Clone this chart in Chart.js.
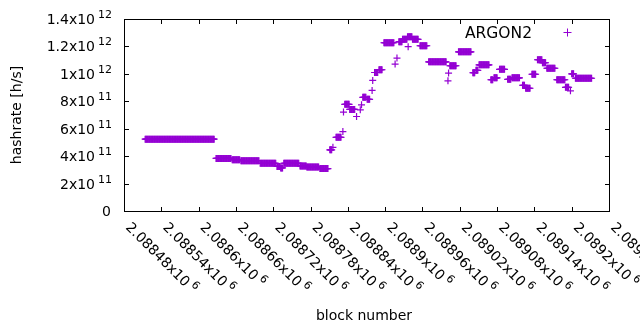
<!DOCTYPE html>
<html><head><meta charset="utf-8">
<script src="https://cdn.jsdelivr.net/npm/chart.js@4/dist/chart.umd.min.js"></script>
<style>html,body{margin:0;padding:0;background:#fff;}canvas{display:block;}</style>
</head><body>
<canvas id="c" width="640" height="330"></canvas>
<script>
// Data: runs of consecutive blocks sharing the same hashrate value
const runStart = [2088514,2088628,2088654,2088668,2088699,2088726,2088732,2088737,2088763,2088774,2088795,
  2088811,2088816,2088821,2088832,2088833,2088835,2088843,2088854,2088860,2088862,2088864,2088871,2088879,2088880,
  2088883,2088890,2088898,2088916,2088919,2088922,2088928,2088936,2088937,2088944,2088956,2088970,2089001,2089002,
  2089004,2089018,2089041,2089046,2089051,2089070,2089075,2089084,2089097,2089104,2089121,2089126,2089136,2089145,
  2089153,2089160,2089176,2089190,2089198,2089200,2089206];
const runEnd = [2088625,2088652,2088666,2088697,2088724,2088731,2088735,2088761,2088773,2088793,2088808,
  2088814,2088816,2088829,2088832,2088833,2088842,2088851,2088854,2088860,2088862,2088869,2088875,2088879,2088880,
  2088888,2088895,2088914,2088916,2088919,2088927,2088935,2088943,2088937,2088953,2088967,2088998,2089001,2089002,
  2089014,2089038,2089044,2089049,2089067,2089073,2089080,2089092,2089102,2089116,2089124,2089133,2089142,2089152,
  2089158,2089173,2089189,2089195,2089198,2089203,2089232];
const runValue = [5.24e11,3.83e11,3.74e11,3.67e11,3.48e11,3.25e11,3.14e11,3.48e11,3.29e11,3.2e11,3.09e11,
  4.46e11,4.64e11,5.37e11,5.79e11,7.21e11,7.78e11,7.41e11,6.89e11,7.38e11,7.74e11,8.29e11,8.14e11,8.79e11,9.52e11,
  1.01e12,1.03e12,1.227e12,1.071e12,1.115e12,1.234e12,1.252e12,1.271e12,1.198e12,1.252e12,1.205e12,1.088e12,9.49e11,1.006e12,
  1.059e12,1.161e12,1.008e12,1.026e12,1.066e12,9.57e11,9.71e11,1.033e12,9.6e11,9.71e11,9.17e11,8.95e11,9.97e11,1.103e12,
  1.081e12,1.041e12,9.57e11,9.02e11,8.76e11,1.0e12,9.68e11];

const xTickValues = [2088480,2088540,2088600,2088660,2088720,2088780,2088840,2088900,2088960,2089020,2089080,2089140,2089200,2089260];
const xTickLabels = ['2.08848','2.08854','2.0886','2.08866','2.08872','2.08878','2.08884','2.0889','2.08896','2.08902','2.08908','2.08914','2.0892','2.08926'];
const xTickExps = ['6','6','6','6','6','6','6','6','6','6','6','6','6','6'];
const yTickValues = [0,2e11,4e11,6e11,8e11,1e12,1.2e12,1.4e12];
const yTickLabels = ['0','2','4','6','8','1','1.2','1.4'];
const yTickExps = ['','11','11','11','11','12','12','12'];
const seriesName = 'ARGON2';
const xTitle = 'block number';
const yTitle = 'hashrate [h/s]';

const COLOR = '#9400d3';
const FONT = '"DejaVu Sans", sans-serif';
const points = [];
for (let i = 0; i < runStart.length; i++) {
  for (let b = runStart[i]; b <= runEnd[i]; b++) points.push({x: b, y: runValue[i]});
}

const frame = {
  id: 'frame',
  beforeDatasetsDraw(chart) {
    const ctx = chart.ctx, a = chart.chartArea, xs = chart.scales.x, ys = chart.scales.y;
    ctx.save();
    ctx.strokeStyle = '#000'; ctx.lineWidth = 1;
    const L = Math.round(a.left), R = Math.round(a.right), T = Math.round(a.top), B = Math.round(a.bottom);
    ctx.strokeRect(L + 0.5, T + 0.5, R - L, B - T);
    ctx.beginPath();
    yTickValues.forEach(v => {
      const py = Math.round(ys.getPixelForValue(v)) + 0.5;
      ctx.moveTo(L, py); ctx.lineTo(L + 5, py);
      ctx.moveTo(R + 1, py); ctx.lineTo(R - 4, py);
    });
    xTickValues.forEach(v => {
      const px = Math.round(xs.getPixelForValue(v)) + 0.5;
      ctx.moveTo(px, B + 1); ctx.lineTo(px, B - 4);
      ctx.moveTo(px, T); ctx.lineTo(px, T + 5);
    });
    ctx.stroke();
    ctx.restore();
  },
  afterDraw(chart) {
    const ctx = chart.ctx, a = chart.chartArea, xs = chart.scales.x, ys = chart.scales.y;
    ctx.save();
    ctx.fillStyle = '#000';
    // y tick labels
    yTickValues.forEach((v, i) => {
      const py = Math.round(ys.getPixelForValue(v));
      if (yTickExps[i]) {
        ctx.font = '11px ' + FONT; ctx.textAlign = 'right'; ctx.textBaseline = 'alphabetic';
        ctx.fillText(yTickExps[i], 112, py - 1);
        const ew = ctx.measureText(yTickExps[i]).width;
        ctx.font = '14px ' + FONT;
        ctx.fillText(yTickLabels[i] + 'x10', 112 - ew - 3, py + 5);
      } else {
        ctx.font = '14px ' + FONT; ctx.textAlign = 'right'; ctx.textBaseline = 'alphabetic';
        ctx.fillText(yTickLabels[i], 111, py + 5);
      }
    });
    // x tick labels rotated
    xTickValues.forEach((v, i) => {
      const px = xs.getPixelForValue(v);
      ctx.save();
      ctx.translate(px + 1, 228);
      ctx.rotate(Math.PI / 4);
      ctx.textAlign = 'left'; ctx.textBaseline = 'alphabetic';
      ctx.font = '14px ' + FONT;
      const main = xTickLabels[i] + 'x10';
      ctx.fillText(main, 0, 0);
      const w = ctx.measureText(main).width;
      ctx.font = '11px ' + FONT;
      ctx.fillText(xTickExps[i], w + 3, -6);
      ctx.restore();
    });
    // axis titles
    ctx.font = '14px ' + FONT;
    ctx.textAlign = 'center'; ctx.textBaseline = 'alphabetic';
    ctx.fillText(xTitle, 364, 320);
    ctx.save();
    ctx.translate(21, 115);
    ctx.rotate(-Math.PI / 2);
    ctx.fillText(yTitle, 0, 0);
    ctx.restore();
    // legend
    ctx.font = '15.5px ' + FONT;
    ctx.textAlign = 'right';
    ctx.fillText(seriesName, 532, 37.5);
    ctx.strokeStyle = COLOR; ctx.lineWidth = 1;
    ctx.beginPath();
    ctx.moveTo(563.5, 32.5); ctx.lineTo(571.5, 32.5);
    ctx.moveTo(567.5, 28.5); ctx.lineTo(567.5, 36.5);
    ctx.stroke();
    ctx.restore();
  }
};

new Chart(document.getElementById('c').getContext('2d'), {
  type: 'scatter',
  data: {datasets: [{
    label: seriesName, data: points,
    pointStyle: 'cross', pointRadius: 3.5, pointHoverRadius: 3.5,
    pointBorderWidth: 1.2, pointBorderColor: COLOR, borderColor: COLOR, backgroundColor: COLOR,
    showLine: false
  }]},
  options: {
    responsive: false, animation: false, devicePixelRatio: 1,
    events: [],
    layout: {padding: {left: 124, right: 31, top: 19, bottom: 119}},
    plugins: {legend: {display: false}, tooltip: {enabled: false}},
    scales: {
      x: {type: 'linear', min: 2088480, max: 2089260,
          ticks: {display: false}, grid: {display: false}, border: {display: false},
          afterFit(s) { s.height = 0; }},
      y: {type: 'linear', min: 0, max: 1.4e12,
          ticks: {display: false}, grid: {display: false}, border: {display: false},
          afterFit(s) { s.width = 0; }}
    }
  },
  plugins: [frame]
});
</script>
</body></html>
